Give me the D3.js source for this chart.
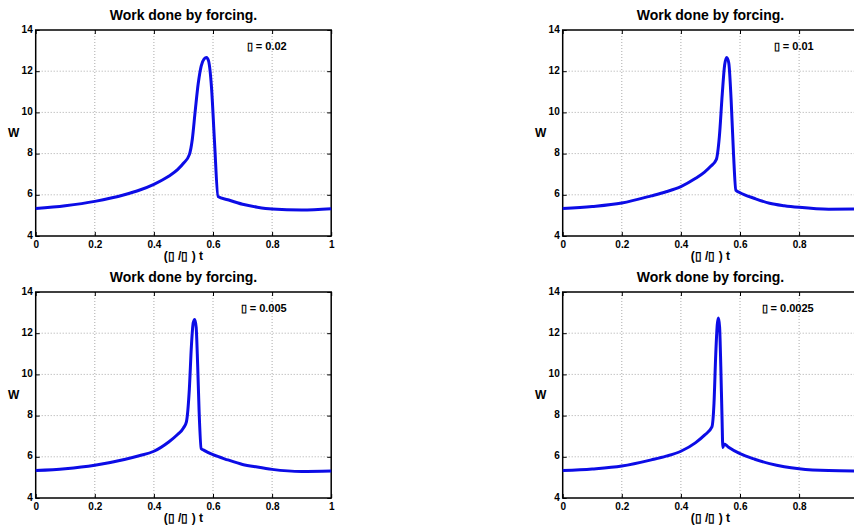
<!DOCTYPE html>
<html lang="en">
<head>
<meta charset="UTF-8">
<title>Work done by forcing</title>
<script src="https://cdn.jsdelivr.net/npm/d3@7"></script>
<style>
  body { margin: 0; background: #fff; }
  text { font-family: "Liberation Sans", Arial, sans-serif; font-weight: bold; }
</style>
</head>
<body>
<div id="chart"></div>
<script>
// data
var xTicks = [0, 0.2, 0.4, 0.6, 0.8, 1];
var yTicks = [4, 6, 8, 10, 12, 14];
var epsLabels = ["0.02", "0.01", "0.005", "0.0025"];

var t1 = [0, 0.1, 0.2, 0.3, 0.35, 0.4, 0.45, 0.48, 0.5, 0.52, 0.53, 0.54, 0.55, 0.56, 0.57, 0.578, 0.585, 0.595, 0.605, 0.617, 0.65, 0.7, 0.75, 0.8, 0.9, 1];
var w1 = [5.33, 5.47, 5.68, 6.0, 6.22, 6.51, 6.9, 7.22, 7.53, 7.95, 8.7, 10.1, 11.4, 12.25, 12.6, 12.67, 12.5, 11.2, 8.6, 5.92, 5.76, 5.54, 5.4, 5.31, 5.26, 5.32];

var t2 = [0, 0.1, 0.2, 0.3, 0.35, 0.4, 0.45, 0.48, 0.5, 0.52, 0.53, 0.54, 0.548, 0.555, 0.562, 0.57, 0.578, 0.586, 0.6, 0.65, 0.7, 0.75, 0.8, 0.9, 1];
var w2 = [5.33, 5.43, 5.6, 5.95, 6.15, 6.4, 6.8, 7.1, 7.37, 7.72, 8.8, 10.9, 12.3, 12.67, 12.4, 10.6, 8.0, 6.22, 6.1, 5.82, 5.59, 5.47, 5.39, 5.3, 5.31];

var t3 = [0, 0.1, 0.2, 0.3, 0.35, 0.4, 0.45, 0.48, 0.5, 0.51, 0.52, 0.527, 0.533, 0.538, 0.543, 0.548, 0.553, 0.56, 0.57, 0.6, 0.65, 0.7, 0.75, 0.8, 0.9, 1];
var w3 = [5.33, 5.42, 5.59, 5.87, 6.05, 6.27, 6.72, 7.08, 7.4, 7.7, 9.3, 11.4, 12.5, 12.67, 12.3, 10.5, 8.2, 6.4, 6.31, 6.1, 5.85, 5.63, 5.5, 5.39, 5.29, 5.31];

var t4 = [0, 0.1, 0.2, 0.3, 0.35, 0.4, 0.45, 0.48, 0.505, 0.512, 0.518, 0.523, 0.527, 0.531, 0.535, 0.539, 0.542, 0.546, 0.56, 0.6, 0.65, 0.7, 0.75, 0.8, 0.9, 1];
var w4 = [5.33, 5.41, 5.55, 5.85, 6.03, 6.27, 6.69, 7.05, 7.45, 8.6, 11.0, 12.4, 12.74, 12.3, 10.4, 8.0, 6.45, 6.62, 6.48, 6.15, 5.88, 5.67, 5.52, 5.42, 5.33, 5.31];

var width = 854, height = 525;
var pw = 295.5, ph = 206;

var svg = d3.select("#chart").append("svg")
    .attr("width", width)
    .attr("height", height);

function drawPanel(ox, oy, ts, ws, eps) {
    var x = d3.scaleLinear().domain([0, 1]).range([0, pw]);
    var y = d3.scaleLinear().domain([4, 14]).range([ph, 0]);
    var g = svg.append("g").attr("transform", "translate(" + ox + "," + oy + ")");

    // grid
    g.selectAll(".gx").data(xTicks.slice(1, -1)).enter().append("line")
        .attr("x1", function(d) { return x(d); }).attr("x2", function(d) { return x(d); })
        .attr("y1", 0).attr("y2", ph)
        .attr("stroke", "#aaa").attr("stroke-dasharray", "1,2");
    g.selectAll(".gy").data(yTicks.slice(1, -1)).enter().append("line")
        .attr("y1", function(d) { return y(d); }).attr("y2", function(d) { return y(d); })
        .attr("x1", 0).attr("x2", pw)
        .attr("stroke", "#aaa").attr("stroke-dasharray", "1,2");

    // axes, ticks inward like matlab
    var ax = g.append("g").attr("transform", "translate(0," + ph + ")")
        .call(d3.axisBottom(x).tickValues(xTicks).tickSizeInner(-4).tickSizeOuter(0).tickPadding(5)
            .tickFormat(function(d) { return d === 0 || d === 1 ? d : d3.format(".1f")(d); }));
    var ay = g.append("g")
        .call(d3.axisLeft(y).tickValues(yTicks).tickSizeInner(-4).tickSizeOuter(0).tickPadding(3));
    g.append("g").call(d3.axisTop(x).tickValues(xTicks).tickSizeInner(-4).tickSizeOuter(0).tickFormat(""));
    g.append("g").attr("transform", "translate(" + pw + ",0)")
        .call(d3.axisRight(y).tickValues(yTicks).tickSizeInner(-4).tickSizeOuter(0).tickFormat(""));
    g.selectAll(".domain").remove();
    g.selectAll(".tick line").attr("stroke", "#000");
    [ax, ay].forEach(function(a) {
        a.selectAll("text").attr("font-size", 10).attr("font-weight", "bold")
            .attr("font-family", "Liberation Sans, Arial, sans-serif").attr("fill", "#000");
    });
    ax.selectAll("text").attr("dy", "0.71em");
    ay.selectAll("text").attr("dy", "0.2em");

    g.append("rect").attr("width", pw).attr("height", ph)
        .attr("fill", "none").attr("stroke", "#000").attr("stroke-width", 1.5);

    // curve
    var line = d3.line()
        .x(function(d, i) { return x(ts[i]); })
        .y(function(d) { return y(d); })
        .curve(d3.curveMonotoneX);
    g.append("path").attr("d", line(ws))
        .attr("fill", "none").attr("stroke", "#0c0ce6").attr("stroke-width", 3)
        .attr("stroke-linejoin", "round");

    // labels
    g.append("text").attr("x", pw / 2).attr("y", -10)
        .attr("text-anchor", "middle").attr("font-size", 14).text("Work done by forcing.");
    g.append("text").attr("x", -22).attr("y", ph / 2 + 4)
        .attr("text-anchor", "middle").attr("font-size", 12).text("W");
    g.append("text").attr("x", pw / 2).attr("y", ph + 24)
        .attr("text-anchor", "middle").attr("font-size", 12).text("(\u25AF /\u25AF ) t");
    g.append("text").attr("x", 251).attr("y", 20)
        .attr("text-anchor", "end").attr("font-size", 11).text("\u25AF  = " + eps);
}

drawPanel(35.7, 30, t1, w1, epsLabels[0]);
drawPanel(562.7, 30, t2, w2, epsLabels[1]);
drawPanel(35.7, 292, t3, w3, epsLabels[2]);
drawPanel(562.7, 292, t4, w4, epsLabels[3]);
</script>
</body>
</html>
